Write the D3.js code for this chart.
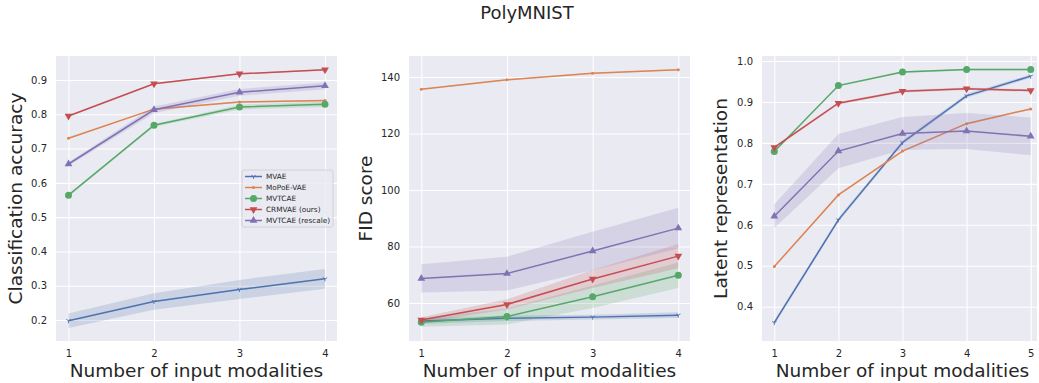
<!DOCTYPE html>
<html>
<head>
<meta charset="utf-8">
<script src="https://cdn.jsdelivr.net/npm/d3@7"></script>
<style>
    body { margin: 0; background: #ffffff; }
    svg { display: block; font-family: "DejaVu Sans", sans-serif; }
</style>
</head>
<body>
<script>
// seaborn "deep" palette
const COLORS = ["#4c72b0", "#dd8452", "#55a868", "#c44e52", "#8172b3"];
const SERIES = ["MVAE", "MoPoE-VAE", "MVTCAE", "CRMVAE (ours)", "MVTCAE (rescale)"];

const modalities4 = [1, 2, 3, 4];
const modalities5 = [1, 2, 3, 4, 5];

// Classification accuracy (mean and std, one row per series)
const accMean = [
    [0.198, 0.254, 0.289, 0.320],
    [0.730, 0.815, 0.836, 0.840],
    [0.564, 0.768, 0.821, 0.829],
    [0.795, 0.889, 0.918, 0.930],
    [0.655, 0.813, 0.864, 0.883]
];
const accStd = [
    [0.021, 0.024, 0.028, 0.029],
    [0.002, 0.002, 0.002, 0.002],
    [0.003, 0.004, 0.007, 0.008],
    [0.002, 0.002, 0.002, 0.002],
    [0.005, 0.010, 0.010, 0.010]
];
const accTicks = [0.2, 0.3, 0.4, 0.5, 0.6, 0.7, 0.8, 0.9];

// FID score
const fidMean = [
    [53.6, 54.6, 55.0, 55.7],
    [135.7, 139.0, 141.3, 142.6],
    [53.2, 55.2, 62.2, 69.8],
    [54.0, 59.5, 68.5, 76.6],
    [68.7, 70.4, 78.4, 86.5]
];
const fidStd = [
    [1.0, 1.0, 0.8, 1.0],
    [0.2, 0.2, 0.2, 0.2],
    [1.6, 2.8, 4.0, 4.5],
    [1.0, 1.8, 3.2, 4.3],
    [5.0, 6.0, 6.8, 7.2]
];
const fidTicks = [60, 80, 100, 120, 140];

// Latent representation
const latMean = [
    [0.361, 0.612, 0.801, 0.915, 0.963],
    [0.498, 0.673, 0.780, 0.847, 0.883],
    [0.779, 0.940, 0.973, 0.979, 0.979],
    [0.789, 0.897, 0.926, 0.932, 0.928],
    [0.621, 0.780, 0.823, 0.829, 0.816]
];
const latStd = [
    [0.005, 0.005, 0.005, 0.005, 0.004],
    [0.002, 0.002, 0.002, 0.002, 0.002],
    [0.002, 0.002, 0.002, 0.002, 0.002],
    [0.003, 0.003, 0.003, 0.003, 0.003],
    [0.029, 0.042, 0.040, 0.044, 0.046]
];
const latTicks = [0.4, 0.5, 0.6, 0.7, 0.8, 0.9, 1.0];

const WIDTH = 1039;
const HEIGHT = 383;
const PANEL_TOP = 56;
const PANEL_BOTTOM = 341;
const TICK_PAD = 9;
const LABEL_SIZE = "18.5px";
const TICK_SIZE = "10px";
const TEXT_COLOR = "#262626";

const svg = d3.select("body").append("svg")
    .attr("width", WIDTH)
    .attr("height", HEIGHT);

svg.append("text")
    .attr("x", 527)
    .attr("y", 19)
    .attr("text-anchor", "middle")
    .style("font-size", "18px")
    .style("fill", TEXT_COLOR)
    .text("PolyMNIST");

// tiny tri_down ("1") marker used by matplotlib
function triDown(g, x, y, color) {
    const r = 2.5;
    const arms = [[0, r], [-r * 0.87, -r * 0.5], [r * 0.87, -r * 0.5]];
    arms.forEach(([dx, dy]) => {
        g.append("line")
            .attr("x1", x).attr("y1", y)
            .attr("x2", x + dx).attr("y2", y + dy)
            .attr("stroke", color)
            .attr("stroke-width", 0.9);
    });
}

function drawMarker(g, idx, x, y) {
    const color = COLORS[idx];
    if (idx === 0) {
        triDown(g, x, y, color);
    } else if (idx === 1) {
        g.append("circle").attr("cx", x).attr("cy", y).attr("r", 1.5).attr("fill", color);
    } else if (idx === 2) {
        g.append("circle").attr("cx", x).attr("cy", y).attr("r", 3.5).attr("fill", color);
    } else {
        g.append("path")
            .attr("d", d3.symbol(d3.symbolTriangle, 26)())
            .attr("transform", `translate(${x},${y}) rotate(${idx === 3 ? 180 : 0})`)
            .attr("fill", color);
    }
}

function drawPanel(cfg) {
    const xScale = d3.scaleLinear().domain(cfg.xDomain).range(cfg.xRange);
    const yScale = d3.scaleLinear().domain(cfg.yDomain).range(cfg.yRange);
    const w = cfg.right - cfg.left;
    const h = PANEL_BOTTOM - PANEL_TOP;

    const clipId = `clip-${cfg.id}`;
    svg.append("defs").append("clipPath").attr("id", clipId)
        .append("rect")
        .attr("x", cfg.left).attr("y", PANEL_TOP)
        .attr("width", w).attr("height", h);

    svg.append("rect")
        .attr("x", cfg.left).attr("y", PANEL_TOP)
        .attr("width", w).attr("height", h)
        .attr("fill", "#eaeaf2");

    // Axes with grid lines drawn as inverted ticks
    const xAxis = svg.append("g")
        .attr("transform", `translate(0,${PANEL_BOTTOM})`)
        .call(d3.axisBottom(xScale).tickValues(cfg.xs).tickFormat(d3.format("d"))
            .tickSizeInner(-h).tickSizeOuter(0).tickPadding(TICK_PAD));

    const yAxis = svg.append("g")
        .attr("transform", `translate(${cfg.left},0)`)
        .call(d3.axisLeft(yScale).tickValues(cfg.yTicks).tickFormat(d3.format(cfg.yFormat))
            .tickSizeInner(-w).tickSizeOuter(0).tickPadding(TICK_PAD));

    [xAxis, yAxis].forEach(axis => {
        axis.select(".domain").remove();
        axis.selectAll("line").attr("stroke", "#ffffff").attr("stroke-width", 1.1);
        axis.selectAll("text")
            .style("font-size", TICK_SIZE)
            .style("fill", TEXT_COLOR)
            .attr("font-family", "DejaVu Sans");
    });

    const plot = svg.append("g").attr("clip-path", `url(#${clipId})`);

    const band = d3.area()
        .x(d => xScale(d.x))
        .y0(d => yScale(d.m - d.s))
        .y1(d => yScale(d.m + d.s));
    const line = d3.line()
        .x(d => xScale(d.x))
        .y(d => yScale(d.m));

    cfg.mean.forEach((row, idx) => {
        const pts = row.map((m, i) => ({ x: cfg.xs[i], m: m, s: cfg.std[idx][i] }));
        const g = plot.append("g");
        g.append("path")
            .attr("d", band(pts))
            .attr("fill", COLORS[idx])
            .attr("fill-opacity", 0.2);
        g.append("path")
            .attr("d", line(pts))
            .attr("fill", "none")
            .attr("stroke", COLORS[idx])
            .attr("stroke-width", 1.5);
        pts.forEach(p => drawMarker(g, idx, xScale(p.x), yScale(p.m)));
    });

    svg.append("text")
        .attr("x", (cfg.left + cfg.right) / 2 + cfg.xLabelShift)
        .attr("y", 377)
        .attr("text-anchor", "middle")
        .style("font-size", LABEL_SIZE)
        .style("fill", TEXT_COLOR)
        .text("Number of input modalities");

    svg.append("text")
        .attr("transform", `translate(${cfg.yLabelX},${(PANEL_TOP + PANEL_BOTTOM) / 2}) rotate(-90)`)
        .attr("text-anchor", "middle")
        .style("font-size", LABEL_SIZE)
        .style("fill", TEXT_COLOR)
        .text(cfg.yLabel);
}

function drawLegend(x, y) {
    const g = svg.append("g");
    g.append("rect")
        .attr("x", x).attr("y", y)
        .attr("width", 91).attr("height", 57)
        .attr("rx", 2)
        .attr("fill", "#eaeaf2")
        .attr("fill-opacity", 0.8)
        .attr("stroke", "#cccccc")
        .attr("stroke-width", 0.8);
    SERIES.forEach((name, idx) => {
        const cy = y + 6.5 + idx * 11;
        g.append("line")
            .attr("x1", x + 3).attr("x2", x + 20)
            .attr("y1", cy).attr("y2", cy)
            .attr("stroke", COLORS[idx])
            .attr("stroke-width", 1.5);
        drawMarker(g, idx, x + 11.5, cy);
        g.append("text")
            .attr("x", x + 24)
            .attr("y", cy)
            .attr("dy", "0.35em")
            .style("font-size", "7.3px")
            .style("fill", TEXT_COLOR)
            .text(name);
    });
}

drawPanel({
    id: "acc", left: 56, right: 337,
    xs: modalities4, xDomain: [1, 4], xRange: [68.5, 325],
    yDomain: [0.2, 0.9], yRange: [320, 80], yTicks: accTicks, yFormat: ".1f",
    mean: accMean, std: accStd,
    yLabel: "Classification accuracy", yLabelX: 22, xLabelShift: 0
});

drawPanel({
    id: "fid", left: 409, right: 690,
    xs: modalities4, xDomain: [1, 4], xRange: [421.3, 678.3],
    yDomain: [60, 140], yRange: [303, 77], yTicks: fidTicks, yFormat: "d",
    mean: fidMean, std: fidStd,
    yLabel: "FID score", yLabelX: 372, xLabelShift: 0
});

drawPanel({
    id: "lat", left: 762, right: 1037,
    xs: modalities5, xDomain: [1, 5], xRange: [774.3, 1030.7],
    yDomain: [0.4, 1.0], yRange: [306.7, 61], yTicks: latTicks, yFormat: ".1f",
    mean: latMean, std: latStd,
    yLabel: "Latent representation", yLabelX: 727, xLabelShift: 3
});

drawLegend(242, 170);
</script>
</body>
</html>
